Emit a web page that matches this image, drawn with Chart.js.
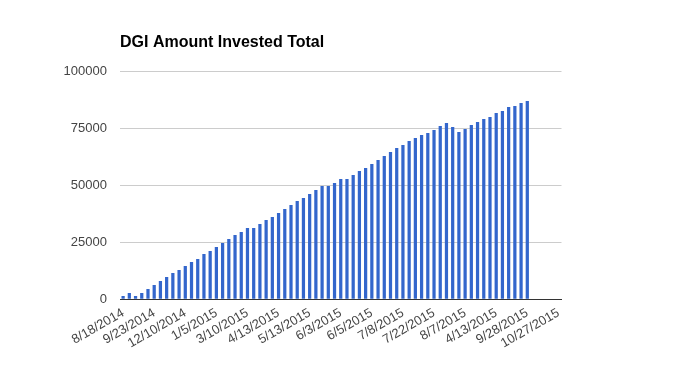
<!DOCTYPE html>
<html>
<head>
<meta charset="utf-8">
<script src="https://cdn.jsdelivr.net/npm/chart.js@4"></script>
<style>
  html, body { margin: 0; padding: 0; background: #fff; }
  #wrap { width: 683px; height: 371px; }
</style>
</head>
<body>
<div id="wrap"><canvas id="dgiChart" width="683" height="371"></canvas></div>
<script>
// dates shown on the axis, one every 5th category
const tickLabels = [
  "8/18/2014", "9/23/2014", "12/10/2014", "1/5/2015", "3/10/2015",
  "4/13/2015", "5/13/2015", "6/3/2015", "6/5/2015", "7/8/2015",
  "7/22/2015", "8/7/2015", "4/13/2015", "9/28/2015", "10/27/2015",
];

// amount invested
const invested = [
  1460, 2780, 1460, 2780, 4530, 6290, 8040, 9800, 11550, 12870,
  14620, 16370, 17690, 19880, 21200, 22950, 24710, 26460, 28220, 29530,
  31290, 31290, 33040, 34800, 36110, 37870, 39620, 41370, 43130, 44450,
  46200, 47950, 49710, 49710, 51020, 52780, 52780, 54530, 56290, 57600,
  59360, 61110, 62870, 64620, 66380, 67690, 69450, 70760, 72080, 72950,
  74270, 76020, 77340, 75580, 73390, 74710, 76460, 77780, 79090, 79970,
  81720, 82600, 84360, 84800, 86110, 86990,
];

const categoryCount = 71;
const labelEvery = 5;

const yTicks = [0, 25000, 50000, 75000, 100000];

const categories = Array.from({ length: categoryCount }, (_, i) =>
  i % labelEvery === 0 ? tickLabels[i / labelEvery] : ""
);
const values = categories.map((_, i) => (i < invested.length ? invested[i] : null));

const axisText = "#444";
const font = { family: "Arial, 'Liberation Sans', sans-serif", size: 13 };

new Chart(document.getElementById("dgiChart"), {
  type: "bar",
  data: {
    labels: categories,
    datasets: [
      {
        label: "DGI Amount Invested Total",
        data: values,
        backgroundColor: "#3366cc",
        categoryPercentage: 1,
        barPercentage: 0.52,
      },
    ],
  },
  options: {
    responsive: false,
    animation: false,
    layout: { padding: { left: 0, right: 121.5, top: 0, bottom: 0 } },
    plugins: {
      legend: { display: false },
      tooltip: { enabled: false },
      title: {
        display: true,
        text: "DGI Amount Invested Total",
        align: "start",
        fullSize: false,
        color: "#000",
        font: { family: font.family, size: 16, weight: "bold", lineHeight: 1.2 },
        padding: { top: 33, bottom: 19.1 },
      },
    },
    scales: {
      x: {
        grid: { display: false },
        border: { display: true, color: "#333", width: 1 },
        ticks: {
          autoSkip: false,
          minRotation: 30,
          maxRotation: 30,
          color: axisText,
          font: font,
          padding: -2,
        },
        afterFit: (s) => {
          s.height = 71.7;
        },
      },
      y: {
        min: 0,
        max: 100000,
        afterBuildTicks: (s) => {
          s.ticks = yTicks.map((v) => ({ value: v }));
        },
        border: { display: false },
        grid: {
          drawTicks: false,
          color: (c) => (c.tick && c.tick.value === 0 ? "rgba(0,0,0,0)" : "#cccccc"),
        },
        ticks: {
          color: axisText,
          font: font,
          padding: 13,
          callback: (v) => String(v),
        },
        afterFit: (s) => {
          s.width = 120;
        },
      },
    },
  },
});
</script>
</body>
</html>
